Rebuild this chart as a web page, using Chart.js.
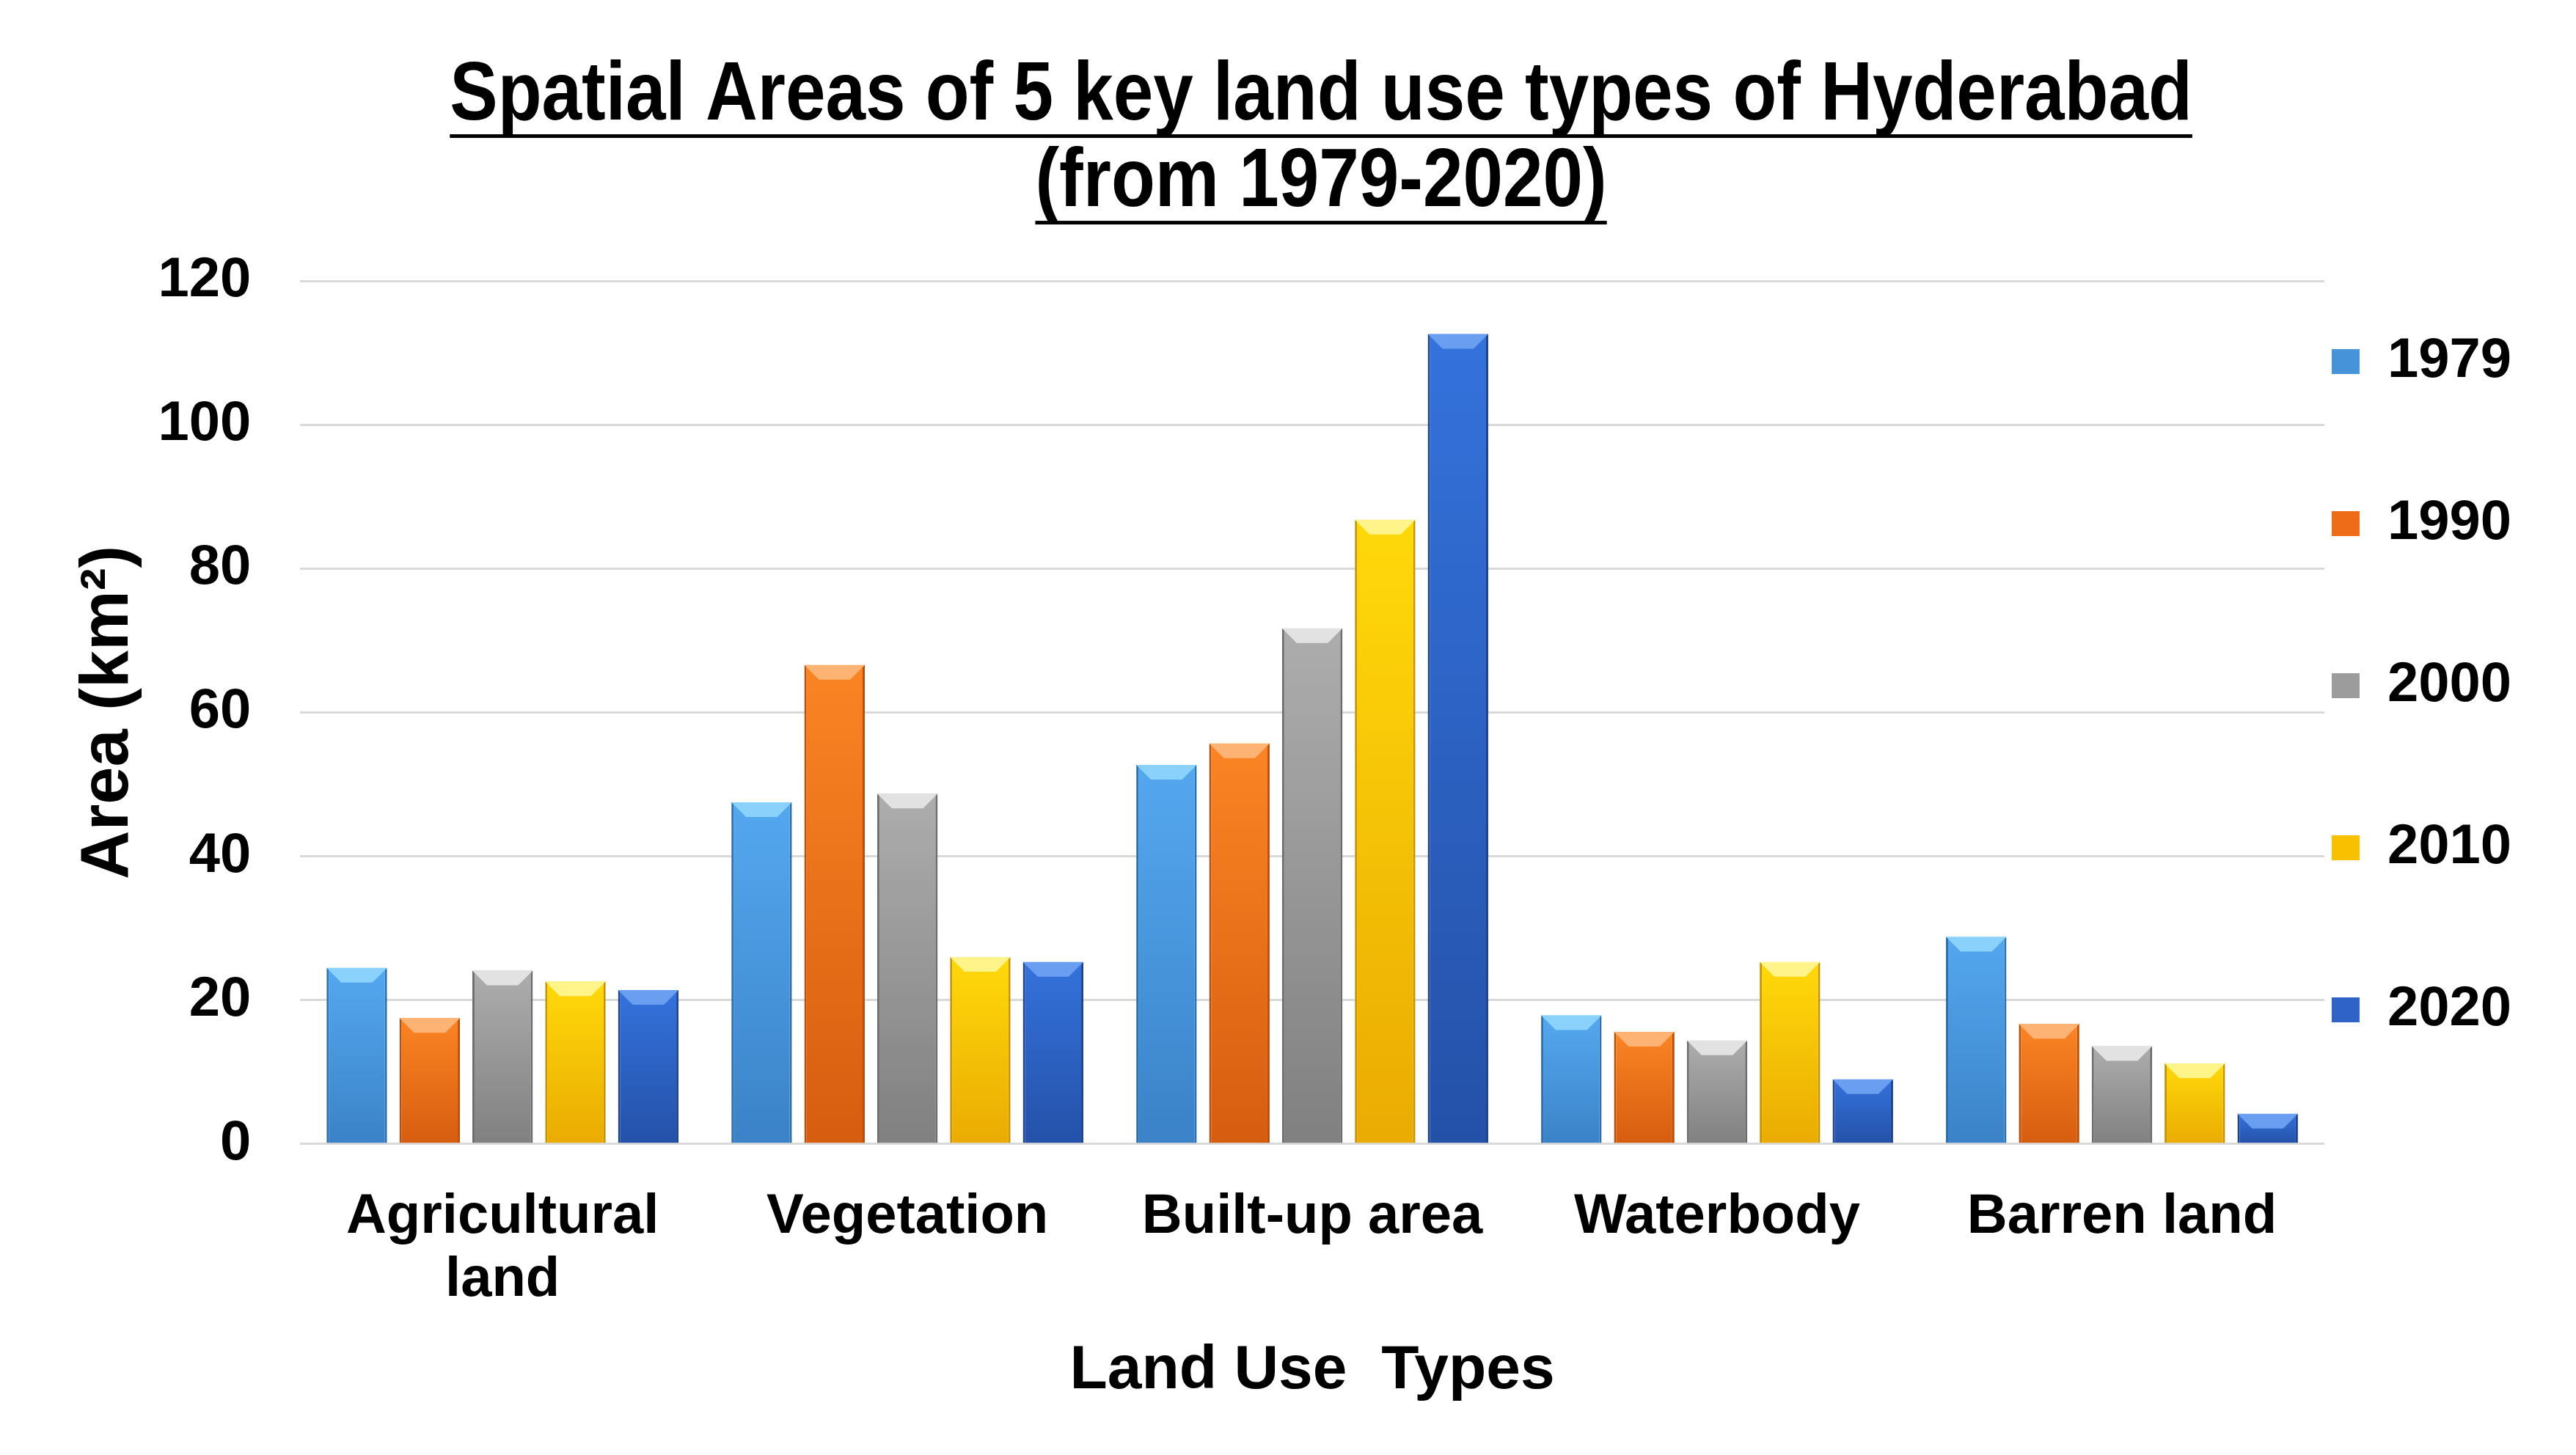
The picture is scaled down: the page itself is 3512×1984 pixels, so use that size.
<!DOCTYPE html>
<html>
<head>
<meta charset="utf-8">
<script src="https://cdn.jsdelivr.net/npm/chart.js@4.4.1/dist/chart.umd.min.js"></script>
<style>
  html, body { margin: 0; padding: 0; background: #fff; }
  #wrap { width: 3512px; height: 1984px; }
</style>
</head>
<body>
<div id="wrap"><canvas id="chart"></canvas></div>
<script>
// Data (km²)
const landTypes = [['Agricultural', 'land'], 'Vegetation', 'Built-up area', 'Waterbody', 'Barren land'];
const years = ['1979', '1990', '2000', '2010', '2020'];
const area1979 = [24.5, 47.5, 52.7, 17.9, 28.8];
const area1990 = [17.5, 66.6, 55.7, 15.6, 16.7];
const area2000 = [24.1, 48.7, 71.7, 14.4, 13.6];
const area2010 = [22.6, 26.0, 86.8, 25.3, 11.2];
const area2020 = [21.4, 25.3, 112.6, 9.0, 4.2];
const chartTitle = ['Spatial Areas of 5 key land use types of Hyderabad', '(from 1979-2020)'];

// Colours per year: top of bar, bottom of bar, side edge, bevel cap, legend swatch
const topColors = ['#54a8ef', '#fb8424', '#adadad', '#ffd90a', '#3472dc'];
const bottomColors = ['#3b82c8', '#d65d0f', '#808080', '#eaab02', '#2451a8'];
const edgeColors = ['#2f6fae', '#b8500c', '#6c6c6c', '#c99300', '#1e448f'];
const capColors = ['#8ad2fb', '#fdb373', '#e2e2e2', '#fff48a', '#6a9ef0'];
const swatchColors = ['#4793da', '#ee6c18', '#9c9c9c', '#f9c000', '#2f63c8'];

const sans = "'Liberation Sans', Arial, sans-serif";
const titleSize = 114;
const titleSquash = 0.86;   // the original title is set in a narrow face
const titleLineY = [132, 250];

// Vertical gradient for each bar, from its own top down to zero
function barFill(i) {
  return (ctx) => {
    const chart = ctx.chart;
    const y = chart.scales && chart.scales.y;
    if (!y || !chart.chartArea || ctx.raw === undefined) return swatchColors[i];
    const top = y.getPixelForValue(ctx.raw);
    const bottom = y.getPixelForValue(0);
    const g = chart.ctx.createLinearGradient(0, top, 0, bottom);
    g.addColorStop(0, topColors[i]);
    g.addColorStop(1, bottomColors[i]);
    return g;
  };
}

// Light bevel on top of each bar
const barCaps = {
  id: 'barCaps',
  afterDatasetsDraw(chart) {
    const c = chart.ctx;
    chart.data.datasets.forEach((ds, i) => {
      chart.getDatasetMeta(i).data.forEach(bar => {
        const {x, y, width} = bar.getProps(['x', 'y', 'width'], true);
        const h = 20;
        const l = x - width / 2, r = x + width / 2;
        c.save();
        c.fillStyle = capColors[i];
        c.beginPath();
        c.moveTo(l, y);
        c.lineTo(r, y);
        c.lineTo(r - h, y + h);
        c.lineTo(l + h, y + h);
        c.closePath();
        c.fill();
        c.restore();
      });
    });
  }
};

// Two-line underlined title, horizontally condensed, centred over the plot
const condensedTitle = {
  id: 'condensedTitle',
  afterDraw(chart) {
    const c = chart.ctx;
    const cx = (chart.chartArea.left + chart.chartArea.right) / 2 + 12;
    c.save();
    c.font = `bold ${titleSize}px ${sans}`;
    c.fillStyle = '#000';
    c.textAlign = 'center';
    c.textBaseline = 'middle';
    chartTitle.forEach((line, i) => {
      c.save();
      c.translate(cx, titleLineY[i]);
      c.scale(titleSquash, 1);
      c.fillText(line, 0, 0);
      const w = c.measureText(line).width;
      c.fillRect(-w / 2, titleSize * 0.47 - 2.5, w, 5);
      c.restore();
    });
    c.restore();
  }
};

const seriesValues = [area1979, area1990, area2000, area2010, area2020];

Chart.defaults.color = '#000';

new Chart(document.getElementById('chart'), {
  type: 'bar',
  data: {
    labels: landTypes,
    datasets: years.map((year, i) => ({
      label: year,
      data: seriesValues[i],
      backgroundColor: barFill(i),
      borderColor: edgeColors[i],
      borderWidth: { left: 3, right: 3, top: 0, bottom: 0 },
      borderSkipped: false,
      categoryPercentage: 0.9,
      barPercentage: 0.83
    }))
  },
  plugins: [barCaps, condensedTitle],
  options: {
    responsive: true,
    maintainAspectRatio: false,
    animation: false,
    devicePixelRatio: 1,
    layout: {
      padding: { left: 93, right: 78, top: 383, bottom: 60 }
    },
    plugins: {
      title: { display: false },
      legend: {
        position: 'right',
        align: 'end',
        fullSize: false,
        labels: {
          boxWidth: 38,
          boxHeight: 34,
          padding: 10,
          color: '#000',
          font: { family: sans, size: 76, weight: 'bold', lineHeight: 2.776 },
          generateLabels: (chart) =>
            Chart.defaults.plugins.legend.labels.generateLabels(chart).map((item, i) => ({
              ...item,
              text: [item.text],
              fillStyle: swatchColors[i],
              strokeStyle: swatchColors[i],
              lineWidth: 0
            }))
        }
      },
      tooltip: { enabled: false }
    },
    scales: {
      x: {
        grid: { display: false, drawTicks: false },
        border: { display: false },
        ticks: {
          color: '#000',
          padding: 58,
          maxRotation: 0,
          font: { family: sans, size: 76, weight: 'bold', lineHeight: 1.12 }
        },
        title: {
          display: true,
          text: 'Land Use  Types',
          color: '#000',
          font: { family: sans, size: 84, weight: 'bold', lineHeight: 1.2 },
          padding: { top: -27, bottom: 4 }
        }
      },
      y: {
        min: 0,
        max: 120,
        grid: { color: '#d9d9d9', lineWidth: 3, drawTicks: false },
        border: { display: false },
        ticks: {
          stepSize: 20,
          color: '#000',
          padding: 67,
          font: { family: sans, size: 76, weight: 'bold' }
        },
        title: {
          display: true,
          text: 'Area (km²)',
          color: '#000',
          font: { family: sans, size: 92, weight: 'bold', lineHeight: 1.2 },
          padding: { top: 0, bottom: -55 }
        }
      }
    }
  }
});
</script>
</body>
</html>
